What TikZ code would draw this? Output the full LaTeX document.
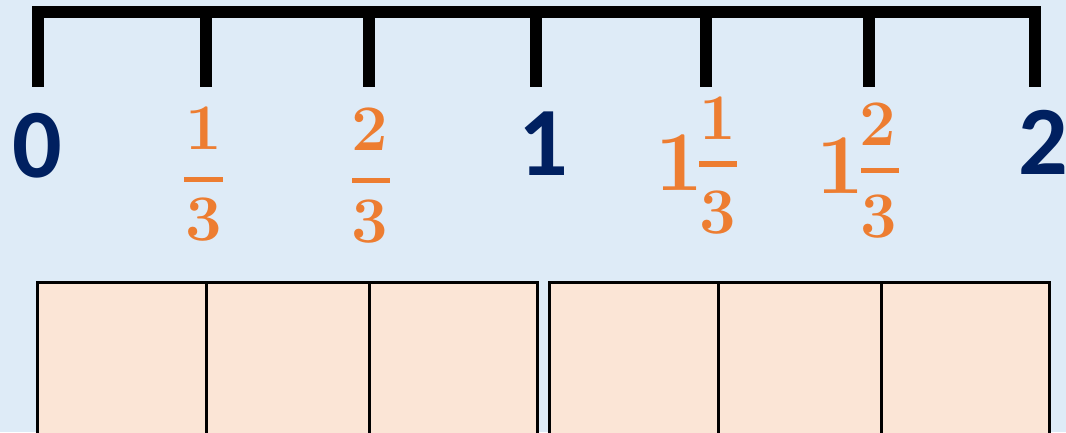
\documentclass[tikz,border=0pt]{standalone}
\usepackage{fontspec}
\usepackage{xcolor}
\usepackage{tikz}
\usetikzlibrary{positioning,calc}
\newfontfamily\calfont{Carlito}
\definecolor{bgblue}{HTML}{DEEBF7}
\definecolor{navy}{HTML}{002060}
\definecolor{accorange}{HTML}{ED7D31}
\definecolor{partfill}{HTML}{FBE5D6}

\begin{document}
\begin{tikzpicture}[x=1pt, y=-1pt,
    tick/.style={line width=12pt, draw=black},
    whole/.style={inner sep=0pt, anchor=base, text=navy, font=\calfont\bfseries\fontsize{98}{100}\selectfont},
    fracdigit/.style={inner sep=0pt, anchor=base, text=accorange, font=\bfseries\fontsize{65}{66}\selectfont},
    mixed/.style={inner sep=0pt, anchor=base, text=accorange, font=\bfseries\fontsize{85}{86}\selectfont},
    fracbar/.style={draw=accorange, line width=5pt},
    part/.style={draw=black, line width=3pt, fill=partfill}
]

% Background
\fill[bgblue] (0,0) rectangle (1066,432);
\useasboundingbox (0,0) rectangle (1066,432);
\clip (0,0) rectangle (1066,432);

% Number line
\coordinate (t0) at (37.5,12);
\coordinate (t6) at (1035,12);
\draw[tick, line join=miter] (37.5,86.5) -- (t0) -- (t6) -- (1035,86.5);
\foreach \x in {206,369,536,706,869}
    \draw[tick] (\x,12) -- (\x,86.5);

% Whole numbers
\node[whole] (n0) at (37.5,177) {0};
\node[whole] (n1) at (543,175) {1};
\node[whole] (n2) at (1043,174) {2};

% One third, two thirds
\node[fracdigit] (a1) at (204,149) {1};
\node[fracdigit] (a3) at (204,240) {3};
\draw[fracbar] (184,179.5) -- (223,179.5);
\node[fracdigit] (b2) at (370,150) {2};
\node[fracdigit] (b3) at (370,242) {3};
\draw[fracbar] (352,180) -- (390,180);

% Mixed numbers
\node[mixed] (c0) at (679,190) {1};
\node[fracdigit] (c1) at (718,139) {1};
\node[fracdigit] (c3) at (718,233) {3};
\draw[fracbar, line width=6pt] (699,164) -- (737,164);
\node[mixed] (d0) at (840,193) {1};
\node[fracdigit] (d2) at (878,145) {2};
\node[fracdigit] (d3) at (879,237) {3};
\draw[fracbar] (861,170) -- (899,170);

% Fraction strips
\draw[part] (37.5,282) rectangle (537.5,440);
\draw[part] (206,282) -- (206,440);
\draw[part] (369,282) -- (369,440);
\draw[part] (549.5,282) rectangle (1049.5,440);
\draw[part] (718,282) -- (718,440);
\draw[part] (881,282) -- (881,440);

\end{tikzpicture}
\end{document}
